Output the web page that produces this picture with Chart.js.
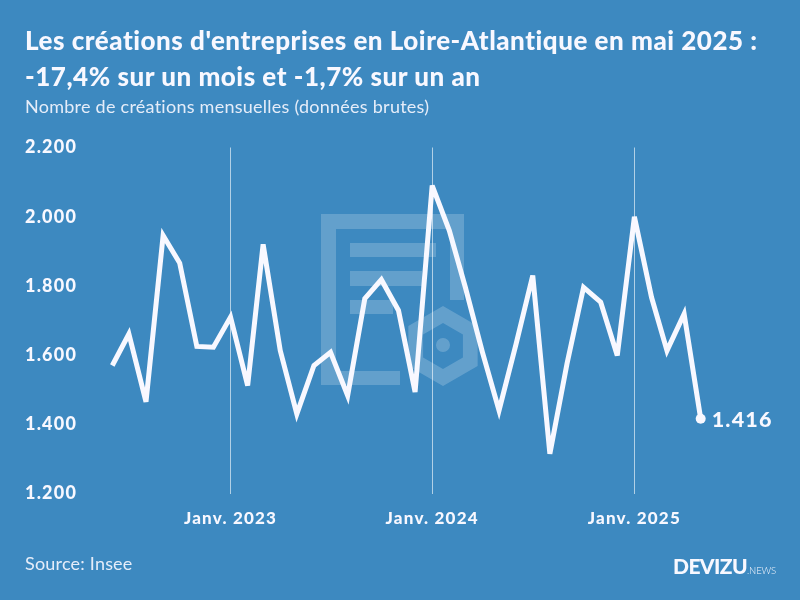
<!DOCTYPE html>
<html lang="fr">
<head>
<meta charset="utf-8">
<script src="https://cdn.jsdelivr.net/npm/chart.js@4"></script>
<style>
    html, body { margin: 0; padding: 0; }
    body { width: 800px; height: 600px; background: #3d89c0; color: #f8f8ff; font-family: Lato, sans-serif; position: relative; overflow: hidden; }
    canvas { position: absolute; left: 0; top: 0; }
    .txt { position: absolute; white-space: nowrap; z-index: 2; }
    #title { left: 25px; top: 22px; font-size: 26px; font-weight: 900; line-height: 36px; letter-spacing: .52px; }
    #subtitle { left: 25px; top: 95px; font-size: 18px; line-height: 22px; letter-spacing: .25px; opacity: .9; }
    #source { left: 25px; top: 552px; font-size: 18px; line-height: 22px; letter-spacing: .2px; opacity: .9; }
    #logo { left: 673px; top: 553px; font-size: 21px; font-weight: 900; line-height: 26px; letter-spacing: -.6px; }
    #logo span { font-size: 9.5px; font-weight: 300; letter-spacing: -.1px; }
</style>
</head>
<body>
<div class="txt" id="title">Les créations d'entreprises en Loire-Atlantique en mai 2025 :<br>-17,4% sur un mois et -1,7% sur un an</div>
<div class="txt" id="subtitle">Nombre de créations mensuelles (données brutes)</div>
<div class="txt" id="source">Source: Insee</div>
<div class="txt" id="logo">DEVIZU<span>.NEWS</span></div>
<canvas id="chart" width="800" height="600"></canvas>
<script>
const months = [
    '2022-06-01', '2022-07-01', '2022-08-01', '2022-09-01', '2022-10-01', '2022-11-01', '2022-12-01',
    '2023-01-01', '2023-02-01', '2023-03-01', '2023-04-01', '2023-05-01', '2023-06-01', '2023-07-01', '2023-08-01', '2023-09-01', '2023-10-01', '2023-11-01', '2023-12-01',
    '2024-01-01', '2024-02-01', '2024-03-01', '2024-04-01', '2024-05-01', '2024-06-01', '2024-07-01', '2024-08-01', '2024-09-01', '2024-10-01', '2024-11-01', '2024-12-01',
    '2025-01-01', '2025-02-01', '2025-03-01', '2025-04-01', '2025-05-01'
];
const creations = [
    1570, 1661, 1465, 1946, 1866, 1625, 1623,
    1710, 1512, 1920, 1613, 1430, 1570, 1608, 1483, 1763, 1818, 1729, 1493,
    2090, 1960, 1796, 1608, 1440, 1633, 1830, 1315, 1575, 1796, 1753, 1599,
    2000, 1767, 1613, 1719, 1416
];
const tickDates = ['2023-01-01', '2024-01-01', '2025-01-01'];
const tickLabels = ['Janv. 2023', 'Janv. 2024', 'Janv. 2025'];

const white = '#f8f8ff';
const fmt = v => String(v).replace(/\B(?=(\d{3})+$)/, '.');

// watermark behind the chart, canvas settings that Chart.js has no option for
const watermark = {
    id: 'watermark',
    beforeDraw(chart) {
        const c = chart.ctx;
        c.miterLimit = 4;
        c.letterSpacing = '1.2px';
        c.save();
        c.fillStyle = 'rgba(255,255,255,0.2)';
        c.beginPath();
        c.moveTo(321, 214); c.lineTo(464, 214); c.lineTo(464, 300); c.lineTo(450, 300);
        c.lineTo(450, 229); c.lineTo(336, 229); c.lineTo(336, 371); c.lineTo(400, 371);
        c.lineTo(400, 385); c.lineTo(321, 385);
        c.closePath();
        c.rect(350, 243, 86, 14);
        c.rect(350, 271, 72, 15);
        c.rect(350, 300, 43, 14);
        c.fill();
        const hex = r => {
            for (let i = 0; i < 6; i++) {
                const a = Math.PI / 3 * i - Math.PI / 2;
                const x = 443 + r * Math.cos(a), y = 346 + r * Math.sin(a);
                i ? c.lineTo(x, y) : c.moveTo(x, y);
            }
            c.closePath();
        };
        c.beginPath();
        hex(40);
        hex(23);
        c.moveTo(450, 345);
        c.arc(443, 345, 7, 0, Math.PI * 2);
        c.fill('evenodd');
        c.restore();
    }
};

// value written next to the last point
const endLabel = {
    id: 'endLabel',
    afterDatasetsDraw(chart) {
        const c = chart.ctx;
        const last = creations.length - 1;
        c.save();
        c.fillStyle = white;
        c.font = '900 21.5px Lato';
        c.textAlign = 'left';
        c.textBaseline = 'middle';
        c.fillText(fmt(creations[last]), chart.scales.x.getPixelForValue(Date.parse(months[last])) + 11, chart.scales.y.getPixelForValue(creations[last]) + 1);
        c.restore();
    }
};

new Chart(document.getElementById('chart').getContext('2d'), {
    type: 'line',
    plugins: [watermark, endLabel],
    data: {
        datasets: [{
            data: months.map((m, i) => ({ x: Date.parse(m), y: creations[i] })),
            borderColor: white,
            backgroundColor: white,
            borderWidth: 5,
            borderJoinStyle: 'miter',
            borderCapStyle: 'butt',
            tension: 0,
            pointRadius: ctx => ctx.dataIndex === creations.length - 1 ? 5 : 0,
            pointBorderWidth: 0,
            clip: false
        }]
    },
    options: {
        responsive: false,
        animation: false,
        devicePixelRatio: 1,
        layout: { padding: { left: 25, right: 99.3, top: 147.5, bottom: 0 } },
        plugins: { legend: { display: false }, title: { display: false }, tooltip: { enabled: false } },
        scales: {
            x: {
                type: 'linear',
                min: Date.parse(months[0]),
                max: Date.parse(months[months.length - 1]),
                afterBuildTicks: s => { s.ticks = tickDates.map(d => ({ value: Date.parse(d) })); },
                afterFit: s => { s.height = 106.5; },
                border: { display: false },
                grid: { drawTicks: false, lineWidth: 1, color: 'rgba(255,255,255,0.6)' },
                ticks: {
                    autoSkip: false,
                    maxRotation: 0,
                    minRotation: 0,
                    padding: 15,
                    color: white,
                    font: { family: 'Lato', size: 17, weight: '900' },
                    callback: v => tickLabels[tickDates.findIndex(d => Date.parse(d) === v)]
                }
            },
            y: {
                min: 1200,
                max: 2200,
                afterFit: s => { s.width = 87.3; },
                border: { display: false },
                grid: { display: false },
                ticks: {
                    stepSize: 200,
                    crossAlign: 'far',
                    padding: 0,
                    color: white,
                    font: { family: 'Lato', size: 18, weight: '900' },
                    callback: v => fmt(v)
                }
            }
        }
    }
});
</script>
</body>
</html>
